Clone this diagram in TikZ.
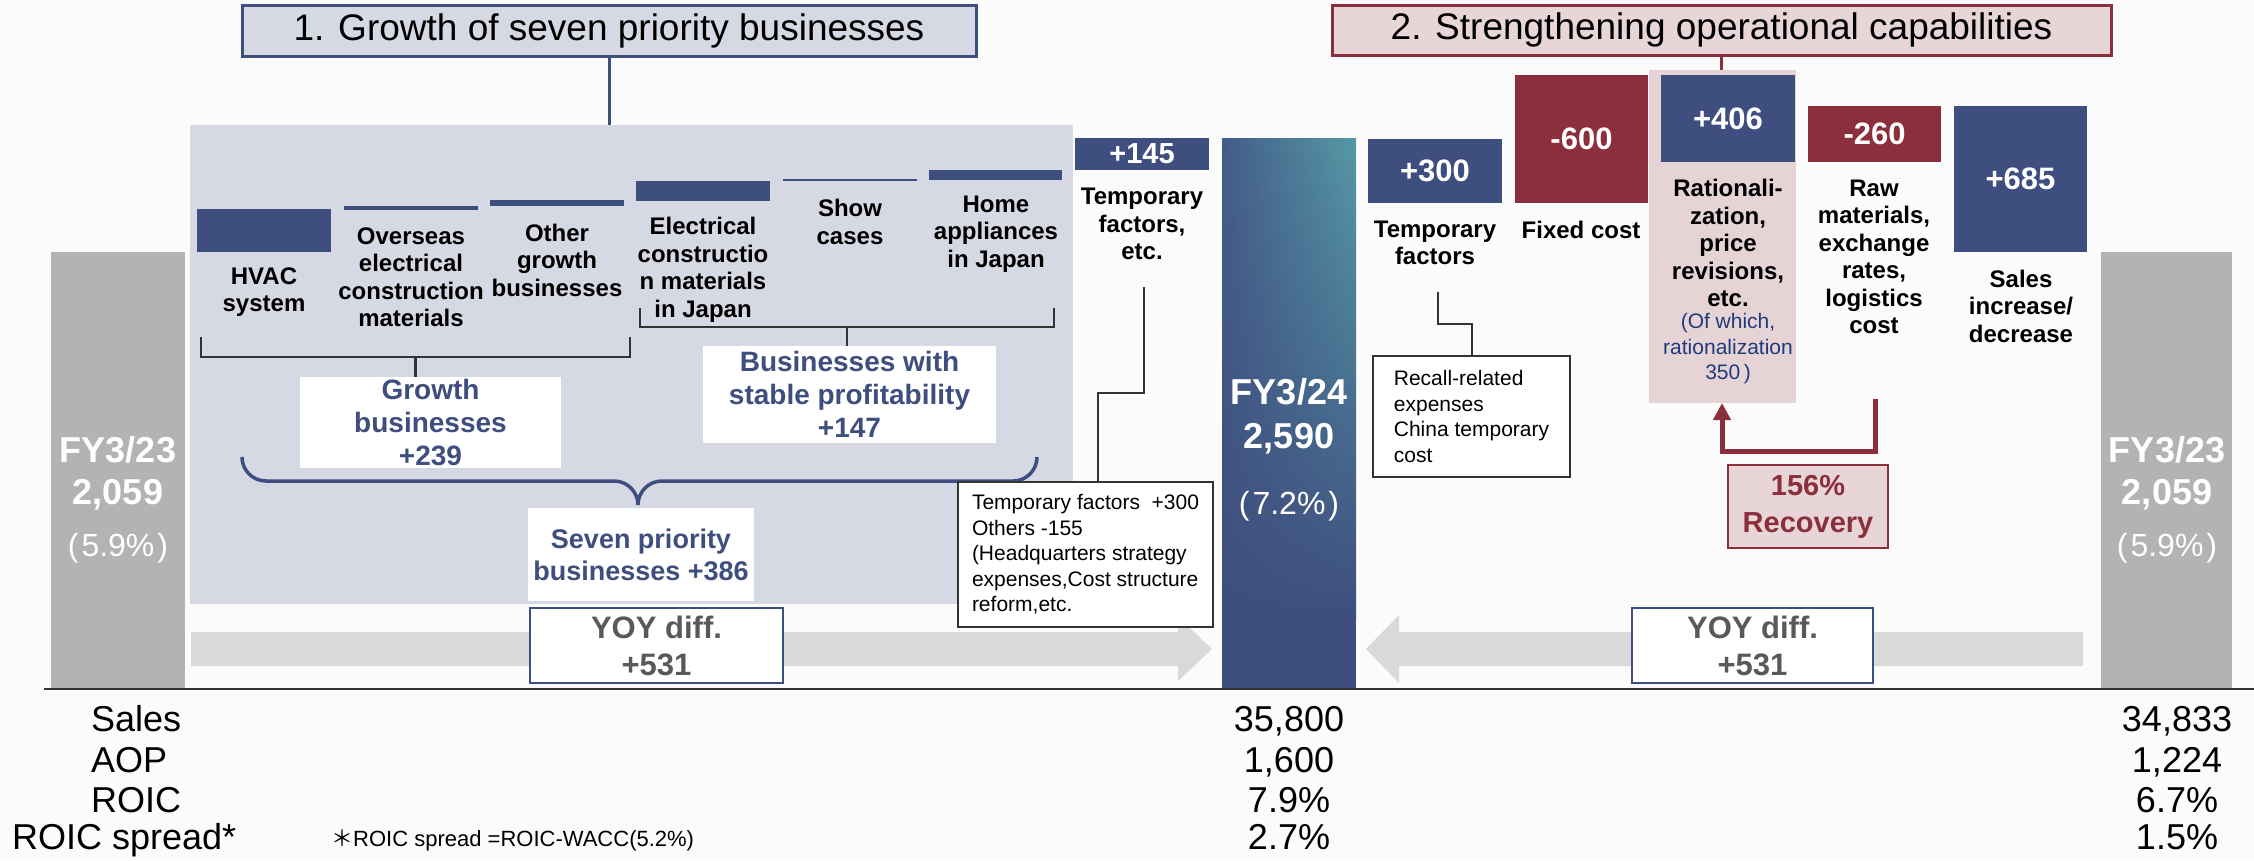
\documentclass[tikz,border=0pt]{standalone}
\usepackage{fontspec}
\setmainfont{Liberation Sans}
\newfontfamily\cjkfont{Noto Sans CJK SC}
\usetikzlibrary{arrows.meta,shadings}
\definecolor{navy}{HTML}{3E4E7E}
\definecolor{wine}{HTML}{8B2F3C}
\definecolor{panelbg}{HTML}{D6D9E3}
\definecolor{pinkbg}{HTML}{E6D3D6}
\definecolor{titlepink}{HTML}{E8D5D8}
\definecolor{barGray}{HTML}{B3B3B3}
\definecolor{bandGray}{HTML}{D9D9D9}
\definecolor{paper}{HTML}{FBFBFB}
\definecolor{fytop}{HTML}{5599A6}
\definecolor{fymid}{HTML}{445C88}
\definecolor{txtgray}{HTML}{595959}
\definecolor{notenavy}{HTML}{203B7A}
\definecolor{linegray}{HTML}{333333}
\newcommand\fs[2]{\fontsize{#1}{#2}\selectfont}
% rectangle node given by its corners: style, name, x1, y1, x2, y2, text
\newcommand\Rbox[7]{\node[#1,minimum width={(#5-#3)*1pt},minimum height={(#6-#4)*1pt}] (#2) at (#3,#4) {#7};}
\begin{document}
\begin{tikzpicture}[x=1pt,y=-1pt,
  box/.style={anchor=north west,inner sep=0pt,outer sep=0pt},
  bar/.style={box,fill=navy},
  navybar/.style={box,fill=navy,text=white,font=\bfseries\fs{31}{36}},
  winebar/.style={box,fill=wine,text=white,font=\bfseries\fs{31}{36}},
  lbl/.style={align=center,inner sep=0pt,font=\bfseries\fs{24}{27.5}},
  grouptxt/.style={align=center,text=navy,font=\bfseries\fs{28}{33}},
  whitebox/.style={box,fill=white},
  callout/.style={box,draw=linegray,line width=2.5pt,fill=white,align=left,font=\fs{21}{25.5}},
  wire/.style={draw=linegray,line width=2.5pt},
  yoy/.style={box,draw=navy,line width=1.5pt,fill=white,text=txtgray,align=center,font=\bfseries\fs{31}{37}},
  bigtxt/.style={text=white,inner sep=0pt,font=\bfseries\fs{36}{43}},
  pcttxt/.style={text=white,inner sep=0pt,font=\fs{32}{40}},
  tabtxt/.style={inner sep=0pt,font=\fs{36}{41}}]

% page
\fill[paper] (0,0) rectangle (2254,860);
\useasboundingbox (0,0) rectangle (2254,860);

% shaded groups
\Rbox{box,fill=panelbg}{panel}{190}{125}{1073}{604}{}
\Rbox{box,fill=pinkbg}{ratbg}{1649}{70}{1796}{403}{}

% headings
\Rbox{box,fill=panelbg,draw=navy,line width=3pt,font=\fs{37}{42}}{t1}{242}{5}{976}{56}{1. Growth of seven priority businesses}
\Rbox{box,fill=titlepink,draw=wine,line width=3pt,font=\fs{37}{42}}{t2}{1332}{5}{2111}{55}{2. Strengthening operational capabilities}
\draw[navy,line width=3pt] (t1.south) -- (t1.south |- panel.north);
\draw[wine,line width=3pt] (t2.south) -- (t2.south |- ratbg.north);

% wide arrows along the base
\fill[bandGray] (191,632) -- (1178,632) -- (1178,617) -- (1212,649) -- (1178,681) -- (1178,666) -- (191,666) -- cycle;
\fill[bandGray] (2083,632) -- (1399,632) -- (1399,615) -- (1366,649) -- (1399,683) -- (1399,666) -- (2083,666) -- cycle;

% totals
\Rbox{box,fill=barGray}{fy23L}{51}{252}{185}{689}{}
\Rbox{box,fill=barGray}{fy23R}{2101}{252}{2232}{689}{}
\Rbox{box,fill=navy}{fy24}{1222}{138}{1356}{689}{}
\shade[upper left=fymid,upper right=fytop,lower left=navy,lower right=navy] (1222,138) rectangle (1356,620);

% seven priority businesses
\Rbox{bar}{hvac}{197}{209}{331}{252}{}
\Rbox{bar}{ovs}{344}{206}{478}{210}{}
\Rbox{bar}{oth}{490}{200}{624}{206}{}
\Rbox{bar}{elec}{636}{181}{770}{201}{}
\Rbox{bar}{show}{783}{179}{917}{181}{}
\Rbox{bar}{home}{929}{170}{1062}{180}{}

% other steps
\Rbox{navybar,font=\bfseries\fs{29}{34}}{v145}{1075}{138}{1209}{170}{+145}
\Rbox{navybar}{v300}{1368}{139}{1502}{203}{+300}
\Rbox{winebar}{v600}{1515}{75}{1648}{203}{-600}
\Rbox{navybar}{v406}{1661}{75}{1795}{162}{+406}
\Rbox{winebar}{v260}{1808}{106}{1941}{162}{-260}
\Rbox{navybar}{v685}{1954}{106}{2087}{252}{+685}

% step labels
\node[lbl] (lhvac) at (264,292) {HVAC\\system};
\node[lbl] (lovs) at (411,277) {Overseas\\electrical\\construction\\materials};
\node[lbl] (loth) at (557,260) {Other\\growth\\businesses};
\node[lbl] (lelec) at (703,270) {Electrical\\constructio\\n materials\\in Japan};
\node[lbl] (lshow) at (850,222) {Show\\cases};
\node[lbl] (lhome) at (996,234) {Home\\appliances\\in Japan};
\node[lbl] (l145) at (1142,224) {Temporary\\factors,\\etc.};
\node[lbl] (l300) at (1435,243) {Temporary\\factors};
\node[lbl] (l600) at (1581,230) {Fixed cost};
\node[lbl] (l406) at (1728,243) {Rationali-\\zation,\\price\\revisions,\\etc.};
\node[align=center,inner sep=0pt,text=notenavy,font=\fs{21}{25.5}] (n406) at (1728,349) {(Of which,\\rationalization\\350\,)};
\node[lbl] (l260) at (1874,257) {Raw\\materials,\\exchange\\rates,\\logistics\\cost};
\node[lbl] (l685) at (2021,306) {Sales\\increase/\\decrease};

% sub-group brackets
\Rbox{whitebox,grouptxt}{gbox}{300}{377}{561}{468}{Growth\\businesses\\+239}
\Rbox{whitebox,grouptxt}{sbox}{703}{346}{996}{443}{Businesses with\\stable profitability\\+147}
\coordinate (gbl) at (201,357);
\coordinate (gbr) at (630,357);
\coordinate (gbm) at (415.5,357);
\draw[wire] (gbl) ++(0,-20) -- (gbl) -- (gbr) -- ++(0,-20);
\draw[wire] (gbm) -- (gbm |- gbox.north);
\coordinate (sbl) at (640,327);
\coordinate (sbr) at (1054,327);
\coordinate (sbm) at (847,327);
\draw[wire] (sbl) ++(0,-19) -- (sbl) -- (sbr) -- ++(0,-19);
\draw[wire] (sbm) -- (sbm |- sbox.north);

% brace over the whole group
\Rbox{whitebox,grouptxt,font=\bfseries\fs{27}{32}}{seven}{528}{508}{754}{601}{Seven priority\\businesses +386}
\coordinate (brL) at (242,457);
\coordinate (brR) at (1037,457);
\coordinate (brT) at (638,505);
\draw[navy,line width=3.5pt] (brL) to[out=-90,in=180] (266,481) -- (614,481)
  to[out=0,in=90] (brT) to[out=90,in=180] (662,481) -- (1013,481) to[out=0,in=-90] (brR);

% YOY boxes
\Rbox{yoy}{yoyL}{530}{608}{783}{683}{YOY diff.\\+531}
\Rbox{yoy}{yoyR}{1632}{608}{1873}{683}{YOY diff.\\+531}

% callouts
\Rbox{callout}{callL}{958}{482}{1213}{627}{Temporary factors\ \ +300\\Others -155\\(Headquarters strategy\\expenses,Cost structure\\reform,etc.}
\Rbox{callout}{callR}{1373}{356}{1570}{477}{Recall-related\\expenses\\China temporary\\cost}
\coordinate (c1) at (1144,287);
\coordinate (k1) at (1098,393);
\draw[wire] (c1) |- (k1) -- (k1 |- callL.north);
\coordinate (c2) at (1438,292);
\coordinate (k2) at (1472,324);
\draw[wire] (c2) |- (k2) -- (k2 |- callR.north);

% recovery
\coordinate (r1) at (1875,399);
\coordinate (r2) at (1722,451);
\draw[wine,line width=5pt,-{Triangle[length=17pt,width=17pt]}] (r1) |- (r2) -- (r2 |- ratbg.south);
\Rbox{box,fill=titlepink,draw=wine,line width=2pt,text=wine,align=center,font=\bfseries\fs{29}{37}}{rec}{1728}{465}{1888}{548}{156\%\\Recovery}

% totals text
\node[bigtxt] (aL1) at (118,450) {FY3/23};
\node[bigtxt] (aL2) at (118,495) {2,059};
\node[pcttxt] (aL3) at (118,548) {(\kern3pt5.9\%\kern3pt)};
\node[bigtxt] (aM1) at (1289,392) {FY3/24};
\node[bigtxt] (aM2) at (1289,439) {2,590};
\node[pcttxt] (aM3) at (1289,506) {(\kern3pt7.2\%\kern3pt)};
\node[bigtxt] (aR1) at (2167,450) {FY3/23};
\node[bigtxt] (aR2) at (2167,495) {2,059};
\node[pcttxt] (aR3) at (2167,548) {(\kern3pt5.9\%\kern3pt)};

% base line
\draw[linegray,line width=2.5pt] (44,689) -- (2254,689);

% figures table
\node[tabtxt,anchor=base west] (tS) at (91,731) {Sales};
\node[tabtxt,anchor=base west] (tA) at (91,772) {AOP};
\node[tabtxt,anchor=base west] (tR) at (91,812) {ROIC};
\node[tabtxt,anchor=base west] (tP) at (12,849) {ROIC spread*};
\node[inner sep=0pt,anchor=base west,font=\fs{22}{26}] (note) at (331,846) {{\cjkfont ＊}ROIC spread =ROIC-WACC(5.2\%)};
\node[tabtxt,anchor=base] (m1) at (1289,731) {35,800};
\node[tabtxt,anchor=base] (m2) at (1289,772) {1,600};
\node[tabtxt,anchor=base] (m3) at (1289,812) {7.9\%};
\node[tabtxt,anchor=base] (m4) at (1289,849) {2.7\%};
\node[tabtxt,anchor=base] (p1) at (2177,731) {34,833};
\node[tabtxt,anchor=base] (p2) at (2177,772) {1,224};
\node[tabtxt,anchor=base] (p3) at (2177,812) {6.7\%};
\node[tabtxt,anchor=base] (p4) at (2177,849) {1.5\%};
\end{tikzpicture}
\end{document}
